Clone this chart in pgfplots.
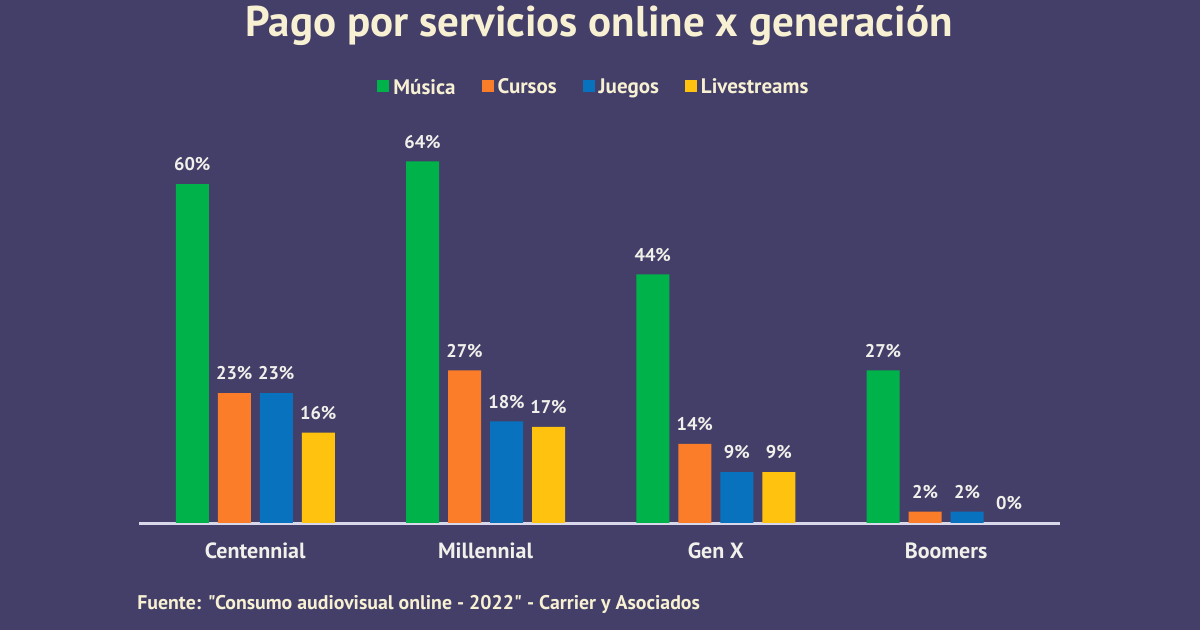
\documentclass[border=0pt]{standalone}
\usepackage{fontspec}
\setmainfont{PT Sans}
\newfontfamily\srcfont{PT Sans}
\usepackage{pgfplots}
\pgfplotsset{compat=1.18}
\definecolor{bg}{HTML}{433F69}
\definecolor{cream}{HTML}{F7F0D2}
\definecolor{lab}{HTML}{F2F0EA}
\definecolor{cverde}{HTML}{00B24A}
\definecolor{cnaranja}{HTML}{FB7D2A}
\definecolor{cazul}{HTML}{0872BE}
\definecolor{camarillo}{HTML}{FFC20E}
\definecolor{axisline}{HTML}{D8D8EA}
\begin{document}
\begin{tikzpicture}
\useasboundingbox (0,0) rectangle (600bp,315bp);
\fill[bg] (0,0) rectangle (600bp,315bp);
\node[anchor=base, text=cream, font=\bfseries\fontsize{21.5bp}{23bp}\selectfont] at (299.5bp,296.5bp) {Pago por servicios online x generación};
\node[anchor=base west, text=cream, font=\srcfont\bfseries\fontsize{9.9bp}{11bp}\selectfont, inner xsep=0pt] at (68.5bp,10.5bp) {Fuente: "Consumo audiovisual online - 2022" - Carrier y Asociados};
\begin{axis}[
  at={(69.5bp,53.5bp)}, anchor=south west,
  width=460.5bp, height=197.75bp, scale only axis,
  ybar=4.5bp, bar width=16.5bp,
  xmin=-0.505, xmax=3.495, ymin=0, ymax=70,
  axis x line*=bottom, axis y line=none,
  x axis line style={draw=axisline, line width=1.5bp, -},
  xtick={0,1,2,3}, xticklabels={Centennial,Millennial,Gen X,Boomers},
  major tick length=0pt,
  xticklabel style={text=lab, font=\bfseries\fontsize{11bp}{13bp}\selectfont, yshift=-6.5bp},
  /pgf/number format/assume math mode=true,
  nodes near coords={\pgfmathprintnumber{\pgfplotspointmeta}\%},
  every node near coord/.append style={text=lab, font=\bfseries\fontsize{9.2bp}{11bp}\selectfont, yshift=3bp},
  legend columns=4,
  legend image code/.code={\fill[#1] (0bp,-2.2bp) rectangle (6bp,3.8bp);},
  legend style={at={(0.495,1.1)}, anchor=center, draw=none, fill=none,
    text=cream, font=\bfseries\fontsize{10.5bp}{12bp}\selectfont,
    /tikz/every even column/.append style={column sep=11bp},
    inner sep=0pt, nodes={inner xsep=2bp}},
]
\addplot[fill=cverde, draw=none] coordinates {(0,60) (1,64) (2,44) (3,27)};
\addplot[fill=cnaranja, draw=none] coordinates {(0,23) (1,27) (2,14) (3,2)};
\addplot[fill=cazul, draw=none] coordinates {(0,23) (1,18) (2,9) (3,2)};
\addplot[fill=camarillo, draw=none] coordinates {(0,16) (1,17) (2,9) (3,0)};
\legend{Música,Cursos,Juegos,Livestreams}
\end{axis}
\end{tikzpicture}
\end{document}
